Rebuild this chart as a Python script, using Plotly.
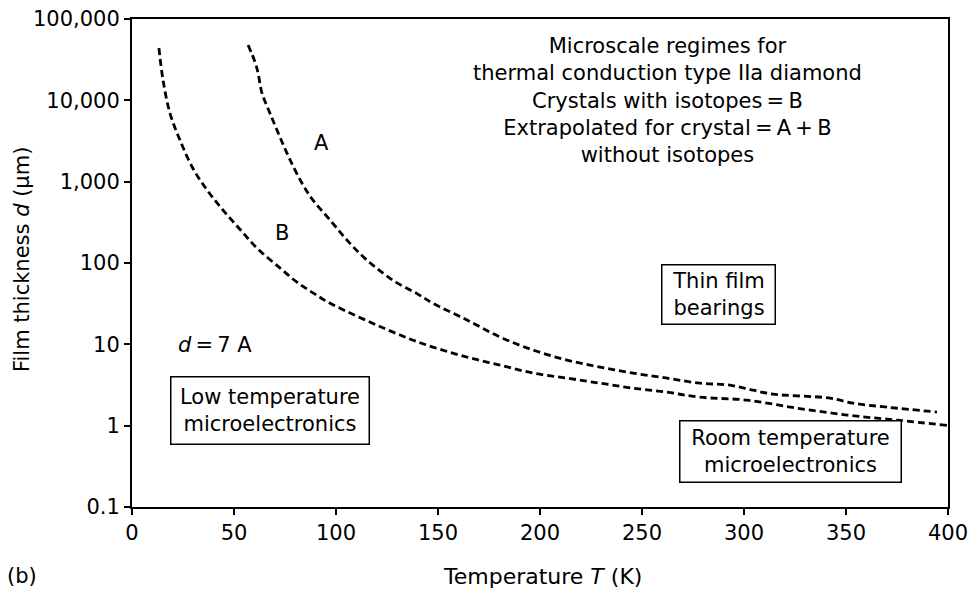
import plotly.graph_objects as go

# Curve B: crystals with isotopes
T_B = [13.2, 15.2, 18.6, 23.5, 29.9, 36.8, 44.6, 52.9, 61.3, 72.5, 80.9, 88.7, 97.1,
       131.4, 147.5, 164.2, 180.4, 196.6, 213.2, 229.4, 245.6, 262.3, 278.4,
       301.5, 326.0, 350.5, 375.0, 399.5]
d_B = [44000, 17800, 6980, 3250, 1450, 789, 448, 260, 152, 87, 58, 43, 32,
       13, 9.25, 6.97, 5.55, 4.43, 3.84, 3.33, 2.89, 2.58, 2.24,
       2.06, 1.64, 1.35, 1.17, 1.01]

# Curve A: extrapolated crystal without isotopes
T_A = [56.9, 60.3, 61.8, 63.7, 67.6, 72.5, 77.5, 83.3, 88.7, 97.1, 105.4, 113.2,
       121.6, 129.9, 139.7, 147.5, 164.2, 180.4, 196.6, 213.2, 229.4, 245.6,
       262.3, 278.4, 293.1, 304.4, 314.2, 342.2, 353.4, 370.1, 394.6]
d_A = [47900, 29600, 21700, 12300, 6980, 3540, 1850, 962, 594, 337, 191, 120,
       80, 57, 42, 32, 19.9, 12.3, 8.5, 6.4, 5.25, 4.43,
       3.84, 3.33, 3.15, 2.73, 2.44, 2.18, 1.89, 1.69, 1.47]

x_ticks = [0, 50, 100, 150, 200, 250, 300, 350, 400]
y_ticks = [0.1, 1, 10, 100, 1000, 10000, 100000]
y_tick_labels = ["0.1", "1", "10", "100", "1,000", "10,000", "100,000"]

FONT = "DejaVu Sans"
FS = 21

fig = go.Figure()
for T, d in ((T_B, d_B), (T_A, d_A)):
    fig.add_trace(go.Scatter(x=T, y=d, mode="lines",
                             line=dict(color="black", width=2.8, dash="7px,4px",
                                       shape="spline", smoothing=1.0),
                             showlegend=False, hoverinfo="skip"))

ax_common = dict(showline=True, linecolor="black", linewidth=2, mirror=True,
                 ticks="outside", ticklen=6, tickwidth=2, tickcolor="black",
                 showgrid=False, zeroline=False, automargin=False,
                 tickfont=dict(family=FONT, size=FS, color="black"))

fig.update_xaxes(range=[0, 400], tickvals=x_ticks, **ax_common)
fig.update_yaxes(type="log", range=[-1, 5], tickvals=y_ticks,
                 ticktext=y_tick_labels, **ax_common)

annots = []
def txt(x, y, text, size=21, **kw):
    d = dict(x=x, y=y, text=text, showarrow=False, xanchor="center", yanchor="middle",
             font=dict(family=FONT, size=size, color="black"))
    d.update(kw)
    annots.append(d)

txt(262.5, 4.0, "Microscale regimes for<br>thermal conduction type IIa diamond<br>"
    "Crystals with isotopes\u2009=\u2009B<br>Extrapolated for crystal\u2009=\u2009A\u2009+\u2009B<br>"
    "without isotopes", align="center")
txt(93.1, 3.475, "A")
txt(73.5, 2.368, "B")
txt(40.7, 0.99, "<i>d</i>\u2009=\u20097 A")
txt(67.6, 0.185, "Low temperature<br>microelectronics", bordercolor="black",
    borderwidth=1.5, borderpad=0, width=197, height=66, bgcolor="white")
txt(287.7, 1.611, "Thin film<br>bearings", bordercolor="black",
    borderwidth=1.5, borderpad=0, width=112, height=58, bgcolor="white")
txt(323.0, -0.32, "Room temperature<br>microelectronics", bordercolor="black",
    borderwidth=1.5, borderpad=0, width=220, height=60, bgcolor="white")

txt(0.503, -0.143, "Temperature <i>T</i> (K)", size=22, xref="paper", yref="paper")
txt(-0.1348, 0.506, "Film thickness <i>d</i> (\u03bcm)", xref="paper", yref="paper",
    textangle=-90)
txt(-0.1348, -0.141, "(b)", xref="paper", yref="paper")

fig.update_layout(width=974, height=591,
                  margin=dict(l=132, r=26, t=19, b=84),
                  paper_bgcolor="white", plot_bgcolor="white",
                  annotations=annots)

fig.write_html("out.html")
